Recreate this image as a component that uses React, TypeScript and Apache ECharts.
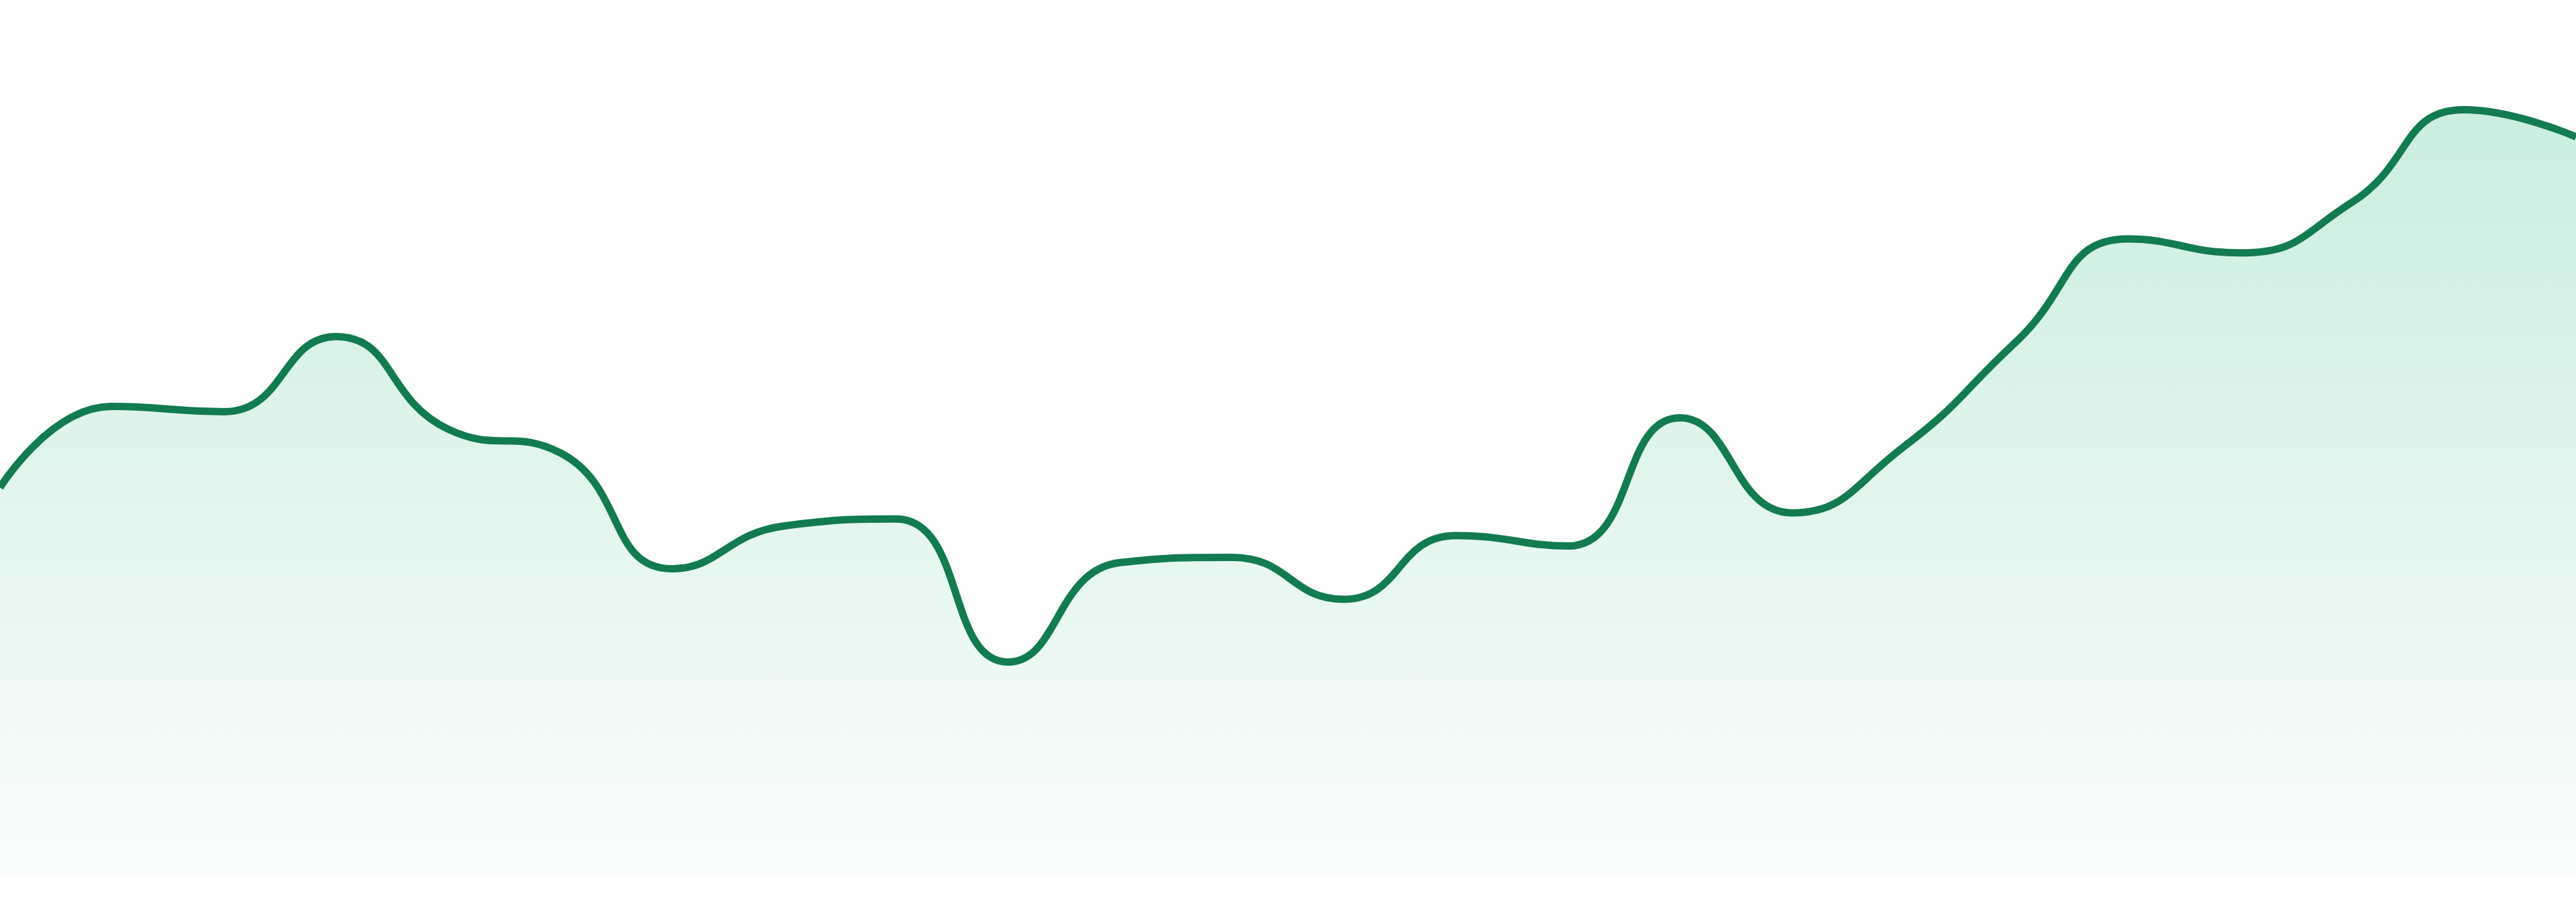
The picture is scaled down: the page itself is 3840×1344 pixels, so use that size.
import React, {useEffect, useRef} from 'react';
import * as echarts from 'echarts';

// 24 evenly spaced points, no labels shown
const categories: string[] = Array.from({length: 24}, (_, i) => `P${i + 1}`);

const values: number[] = [
  44.5, 53.8, 53.2, 61.8, 51.2, 48.5, 35.2, 40.1, 40.9, 24.5, 35.9, 36.5,
  31.7, 39.0, 37.8, 52.5, 41.6, 49.2, 61.2, 73.0, 71.4, 77.2, 87.8, 84.7,
];

const yMin = 0;
const yMax = 100;

const lineColor = '#127b50';
const fillTop = '#b3e6d2';
const fillBottom = '#f8fcfa';

const AreaChart: React.FC = () => {
  const chartRef = useRef<HTMLDivElement | null>(null);

  useEffect(() => {
    if (!chartRef.current) return;
    const myChart = echarts.init(chartRef.current, null, {renderer: 'svg'});

    const option = {
      animation: false,
      backgroundColor: '#ffffff',
      grid: {left: 0, right: 0, top: 5, bottom: 39},
      xAxis: {
        type: 'category',
        boundaryGap: false,
        data: categories,
        show: false,
      },
      yAxis: {
        type: 'value',
        min: yMin,
        max: yMax,
        show: false,
      },
      series: [
        {
          type: 'line',
          data: values,
          smooth: true,
          showSymbol: false,
          symbol: 'none',
          lineStyle: {color: lineColor, width: 11},
          areaStyle: {
            color: new echarts.graphic.LinearGradient(0, 0, 0, 1, [
              {offset: 0, color: fillTop},
              {offset: 1, color: fillBottom},
            ]),
          },
        },
      ],
    };

    myChart.setOption(option);

    return () => {
      myChart.dispose();
    };
  }, []);

  return (
    <div
      ref={chartRef}
      style={{position: 'fixed', left: 0, top: 0, width: '3840px', height: '1344px'}}
    />
  );
};

export default function App() {
  return <AreaChart />;
}
